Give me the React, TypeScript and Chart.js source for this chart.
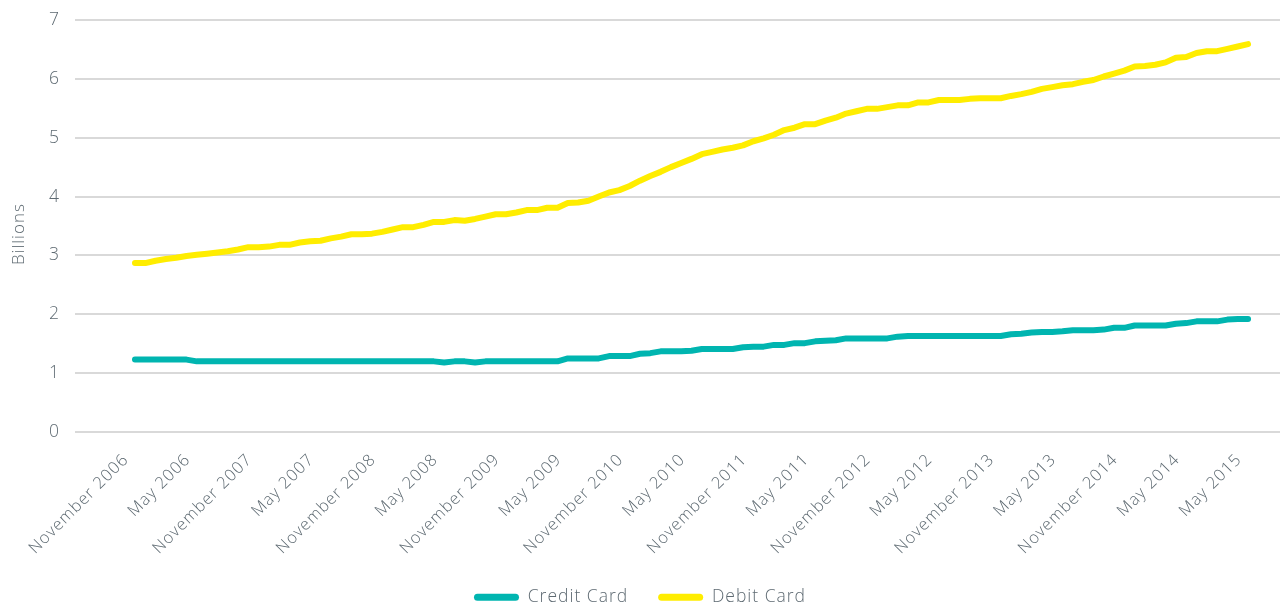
import React, { useEffect, useRef } from "react";
import { Chart, registerables } from "chart.js";

Chart.register(...registerables);

const tickLabels = [
  "November 2006", "May 2006", "November 2007", "May 2007", "November 2008",
  "May 2008", "November 2009", "May 2009", "November 2010", "May 2010",
  "November 2011", "May 2011", "November 2012", "May 2012", "November 2013",
  "May 2013", "November 2014", "May 2014", "May 2015",
];

const creditCard = [
  1.23, 1.23, 1.23, 1.23, 1.23, 1.23, 1.2, 1.2, 1.2, 1.2,
  1.2, 1.2, 1.2, 1.2, 1.2, 1.2, 1.2, 1.2, 1.2, 1.2,
  1.2, 1.2, 1.2, 1.2, 1.2, 1.2, 1.2, 1.2, 1.2, 1.2,
  1.18, 1.2, 1.2, 1.18, 1.2, 1.2, 1.2, 1.2, 1.2, 1.2,
  1.2, 1.2, 1.25, 1.25, 1.25, 1.25, 1.29, 1.29, 1.29, 1.33,
  1.34, 1.37, 1.37, 1.37, 1.38, 1.41, 1.41, 1.41, 1.41, 1.44,
  1.45, 1.45, 1.48, 1.48, 1.51, 1.51, 1.54, 1.55, 1.56, 1.59,
  1.59, 1.59, 1.59, 1.59, 1.62, 1.63, 1.63, 1.63, 1.63, 1.63,
  1.63, 1.63, 1.63, 1.63, 1.63, 1.66, 1.67, 1.69, 1.7, 1.7,
  1.71, 1.73, 1.73, 1.73, 1.74, 1.77, 1.77, 1.81, 1.81, 1.81,
  1.81, 1.84, 1.85, 1.88, 1.88, 1.88, 1.91, 1.92, 1.92,
];

const debitCard = [
  2.87, 2.87, 2.91, 2.94, 2.96, 2.99, 3.01, 3.03, 3.05, 3.07,
  3.1, 3.14, 3.14, 3.15, 3.18, 3.18, 3.22, 3.24, 3.25, 3.29,
  3.32, 3.36, 3.36, 3.37, 3.4, 3.44, 3.48, 3.48, 3.52, 3.57,
  3.57, 3.6, 3.59, 3.62, 3.66, 3.7, 3.7, 3.73, 3.77, 3.77,
  3.81, 3.81, 3.89, 3.9, 3.93, 4.0, 4.07, 4.11, 4.18, 4.27,
  4.35, 4.42, 4.5, 4.57, 4.64, 4.72, 4.76, 4.8, 4.83, 4.87,
  4.94, 4.99, 5.05, 5.13, 5.17, 5.23, 5.23, 5.29, 5.34, 5.41,
  5.45, 5.49, 5.49, 5.52, 5.55, 5.55, 5.6, 5.6, 5.64, 5.64,
  5.64, 5.66, 5.67, 5.67, 5.67, 5.71, 5.74, 5.78, 5.83, 5.86,
  5.89, 5.91, 5.95, 5.98, 6.04, 6.09, 6.14, 6.21, 6.22, 6.24,
  6.28, 6.36, 6.37, 6.44, 6.47, 6.47, 6.51, 6.55, 6.59,
];

const yTicks = [0, 1, 2, 3, 4, 5, 6, 7];
const seriesNames = ["Credit Card", "Debit Card"];
const seriesColors = ["#00b5b0", "#ffed00"];
const TICK_STEP = 6;

const FONT = "'Open Sans', 'DejaVu Sans', sans-serif";
const TEXT = "#5e6a72";

const letterSpacingPlugin = {
  id: "letterSpacing",
  beforeUpdate(chart: any) {
    chart.ctx.letterSpacing = "1px";
  },
  beforeDraw(chart: any) {
    chart.ctx.letterSpacing = "1px";
  },
};

export default function App() {
  const ref = useRef<HTMLCanvasElement | null>(null);

  useEffect(() => {
    if (!ref.current) return;
    const toPts = (arr: number[]) => arr.map((v, i) => ({ x: i, y: v }));
    const chart = new Chart(ref.current, {
      type: "line",
      plugins: [letterSpacingPlugin],
      data: {
        datasets: [creditCard, debitCard].map((arr, k) => ({
          label: seriesNames[k],
          data: toPts(arr),
          borderColor: seriesColors[k],
          backgroundColor: seriesColors[k],
          borderWidth: 6,
          pointRadius: 0,
          tension: 0,
          borderCapStyle: "round" as const,
          borderJoinStyle: "round" as const,
        })),
      },
      options: {
        responsive: false,
        animation: false,
        devicePixelRatio: 1,
        layout: { padding: { top: 20, right: 3, left: 0, bottom: 0 } },
        plugins: {
          tooltip: { enabled: false },
          legend: {
            position: "bottom",
            labels: {
              color: TEXT,
              font: { family: FONT, size: 17.5, weight: "300" },
              boxWidth: 45,
              boxHeight: 7,
              useBorderRadius: true,
              borderRadius: 3.5,
              padding: 30,
              generateLabels: (c: any) =>
                Chart.defaults.plugins.legend.labels
                  .generateLabels(c)
                  .map((l: any) => ({ ...l, lineWidth: 0 })),
            },
          },
        },
        scales: {
          x: {
            type: "linear",
            min: -5.82,
            max: 111.1,
            grid: { display: false, drawTicks: false },
            border: { display: false },
            afterBuildTicks: (axis: any) => {
              axis.ticks = tickLabels.map((_, k) => ({ value: k * TICK_STEP }));
            },
            afterFit: (axis: any) => {
              axis.height = 126.5;
            },
            ticks: {
              autoSkip: false,
              minRotation: 45,
              maxRotation: 45,
              padding: 18,
              labelOffset: -9,
              color: TEXT,
              font: { family: FONT, size: 16.5, weight: "300" },
              callback: (value: any) => tickLabels[Math.round(Number(value) / TICK_STEP)] ?? "",
            },
          },
          y: {
            min: yTicks[0],
            max: yTicks[yTicks.length - 1],
            afterBuildTicks: (axis: any) => {
              axis.ticks = yTicks.map((v) => ({ value: v }));
            },
            afterFit: (axis: any) => {
              axis.width = 75;
              axis.paddingTop = 0;
              axis.paddingBottom = 0;
            },
            grid: { color: "#d9d9d9", lineWidth: 2, drawTicks: false },
            border: { display: false },
            ticks: {
              padding: 15,
              color: TEXT,
              font: { family: FONT, size: 17.5, weight: "300" },
            },
            title: {
              display: true,
              text: "Billions   ",
              color: TEXT,
              font: { family: FONT, size: 17, weight: "300" },
              padding: { top: 9, bottom: 10 },
            },
          },
        },
      },
    });
    return () => chart.destroy();
  }, []);

  return (
    <div
      style={{
        position: "absolute",
        left: 0,
        top: 0,
        width: 1283,
        height: 607,
        overflow: "hidden",
        background: "#ffffff",
      }}
    >
      <canvas ref={ref} width={1283} height={616} style={{ display: "block" }} />
    </div>
  );
}
